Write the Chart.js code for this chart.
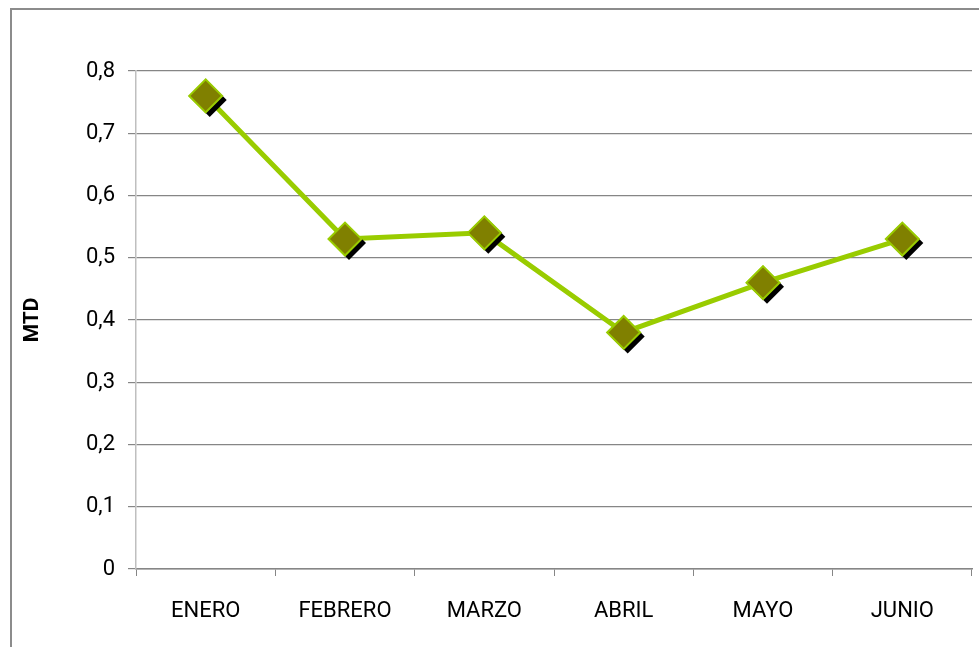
<!DOCTYPE html>
<html>
<head>
<meta charset="utf-8">
<script src="https://cdn.jsdelivr.net/npm/chart.js@4"></script>
<style>
  html, body { margin: 0; padding: 0; background: #fff; }
  #wrap { width: 979px; height: 647px; }
</style>
</head>
<body>
<div id="wrap"><canvas id="MtdChart" width="979" height="647"></canvas></div>
<script>
var months = ['ENERO', 'FEBRERO', 'MARZO', 'ABRIL', 'MAYO', 'JUNIO'];
var mtdValues = [0.76, 0.53, 0.54, 0.38, 0.46, 0.53];
var yMin = 0, yMax = 0.8, yStep = 0.1;
var axisTitle = 'MTD';

var FONT = 'Roboto, "Liberation Sans", Arial, sans-serif';

// outer chart frame, like the spreadsheet border
var framePlugin = {
    id: 'frame',
    beforeDraw: function (chart) {
        var c = chart.ctx;
        c.save();
        c.strokeStyle = '#8c8c8c';
        c.lineWidth = 2;
        c.strokeRect(11, 9, chart.width + 50, chart.height + 50);
        c.restore();
    }
};

// black drop shadow, only for the "shadow" markers dataset (index 1)
var shadowPlugin = {
    id: 'markerShadow',
    beforeDatasetDraw: function (chart, args) {
        if (args.index !== 1) return;
        var c = chart.ctx;
        c.save();
        c.shadowColor = '#000000';
        c.shadowOffsetX = 4;
        c.shadowOffsetY = 4;
        c.shadowBlur = 0;
    },
    afterDatasetDraw: function (chart, args) {
        if (args.index !== 1) return;
        chart.ctx.restore();
    }
};

var ctx = document.getElementById('MtdChart').getContext('2d');
var mtdChart = new Chart(ctx, {
    type: 'line',
    plugins: [framePlugin, shadowPlugin],
    data: {
        labels: months,
        datasets: [{
            label: 'MTD',
            data: mtdValues,
            borderColor: '#99CC00',
            borderWidth: 5,
            pointRadius: 0,
            tension: 0,
            order: 3
        }, {
            label: 'sombra',
            data: mtdValues,
            showLine: false,
            pointStyle: 'rectRot',
            pointRadius: 17,
            pointBackgroundColor: '#808000',
            pointBorderWidth: 0,
            order: 2
        }, {
            label: 'marcadores',
            data: mtdValues,
            showLine: false,
            pointStyle: 'rectRot',
            pointRadius: 16.5,
            pointBackgroundColor: '#808000',
            pointBorderColor: '#99CC00',
            pointBorderWidth: 2,
            order: 1
        }]
    },
    options: {
        responsive: false,
        animation: false,
        events: [],
        layout: {
            autoPadding: false,
            padding: { left: 20, top: 71, right: 7, bottom: 0 }
        },
        plugins: {
            legend: { display: false },
            tooltip: { enabled: false }
        },
        scales: {
            x: {
                offset: true,
                grid: {
                    offset: true,
                    drawOnChartArea: false,
                    drawTicks: true,
                    tickLength: 7,
                    tickColor: '#868686'
                },
                border: { color: '#868686', width: 1.5 },
                ticks: {
                    color: '#000',
                    padding: 22,
                    font: { family: FONT, size: 22 }
                },
                afterFit: function (scale) {
                    scale.height = 78;
                    scale.paddingLeft = 0;
                    scale.paddingRight = 0;
                }
            },
            y: {
                min: yMin,
                max: yMax,
                ticks: {
                    stepSize: yStep,
                    color: '#000',
                    padding: 13,
                    font: { family: FONT, size: 22 },
                    callback: function (v) {
                        return v === 0 ? '0' : v.toFixed(1).replace('.', ',');
                    }
                },
                grid: {
                    color: '#868686',
                    lineWidth: 1.2,
                    tickLength: 8
                },
                border: { color: '#BFBFBF', width: 1.5 },
                title: {
                    display: true,
                    text: axisTitle,
                    color: '#000',
                    padding: 0,
                    font: { family: FONT, size: 21, weight: 'bold', lineHeight: 1.2 }
                },
                afterFit: function (scale) { scale.width = 116; }
            }
        }
    }
});
</script>
</body>
</html>
